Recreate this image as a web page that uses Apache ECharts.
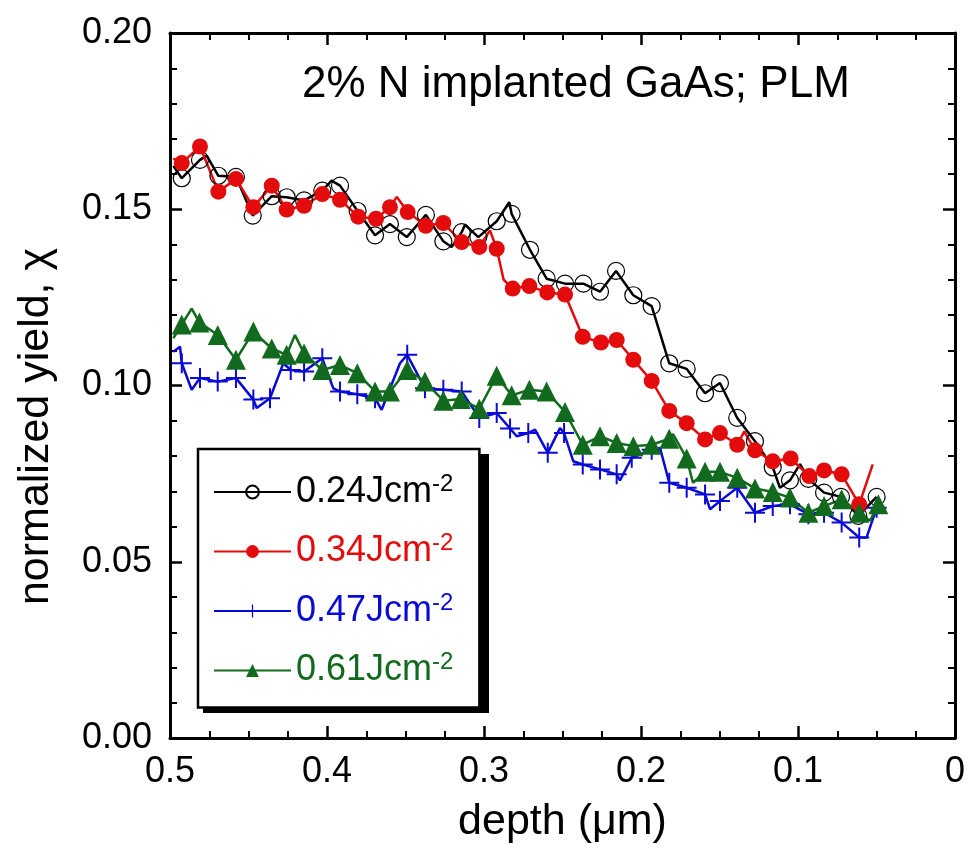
<!DOCTYPE html>
<html>
<head>
<meta charset="utf-8">
<script src="https://cdn.jsdelivr.net/npm/echarts@6/dist/echarts.min.js"></script>
<style>
  html, body { margin: 0; padding: 0; background: #fff; }
  #main { width: 971px; height: 850px; }
</style>
</head>
<body>
<div id="main"></div>
<script>
// fluence labels and colours
var fluences = ['0.24', '0.34', '0.47', '0.61'];
var colors = ['#000000', '#e30b0b', '#0a0ad8', '#126a1f'];

// [depth (um), normalized yield] at the plotted markers
var blackMarks = [[0.4925,0.1588],[0.4809,0.1640],[0.4692,0.1595],[0.458,0.1592],[0.4473,0.1482],[0.4352,0.1537],[0.4257,0.1534],[0.4146,0.1525],[0.403,0.1553],[0.3917,0.1567],[0.3805,0.1495],[0.3694,0.1426],[0.3599,0.1458],[0.3492,0.1421],[0.337,0.1484],[0.3259,0.1409],[0.3142,0.1435],[0.3036,0.1421],[0.2919,0.1466],[0.2824,0.1487],[0.2707,0.1385],[0.2601,0.1303],[0.2484,0.1289],[0.2367,0.1289],[0.2261,0.1266],[0.2159,0.1325],[0.2049,0.1256],[0.1932,0.1225],[0.182,0.1063],[0.1709,0.1047],[0.1592,0.0978],[0.1497,0.1007],[0.1387,0.0908],[0.1274,0.0842],[0.1161,0.0768],[0.1051,0.0731],[0.0934,0.0735],[0.0834,0.0696],[0.0726,0.0684],[0.0616,0.063],[0.0499,0.0684]];
var redMarks = [[0.4925,0.1631],[0.4809,0.1678],[0.4692,0.155],[0.458,0.1586],[0.4469,0.1506],[0.4352,0.1567],[0.4257,0.1499],[0.4146,0.151],[0.403,0.1543],[0.3917,0.1527],[0.3801,0.1479],[0.3688,0.1473],[0.3599,0.1506],[0.3486,0.1492],[0.3371,0.1453],[0.3259,0.1461],[0.3142,0.1407],[0.303,0.1393],[0.2919,0.1388],[0.2817,0.1275],[0.2711,0.1282],[0.2597,0.1264],[0.2484,0.1258],[0.2371,0.1138],[0.2255,0.1122],[0.2155,0.1129],[0.2049,0.1073],[0.1932,0.1013],[0.182,0.0928],[0.1709,0.0893],[0.1592,0.0847],[0.1497,0.0865],[0.1387,0.0832],[0.1274,0.0816],[0.1161,0.0785],[0.1047,0.0793],[0.0928,0.0743],[0.0834,0.0759],[0.0722,0.0748],[0.061,0.0663]];
var blueMarks = [[0.4925,0.1063],[0.4809,0.1021],[0.4696,0.1011],[0.458,0.1021],[0.4469,0.096],[0.4363,0.0964],[0.4231,0.1044],[0.4146,0.104],[0.403,0.1077],[0.3917,0.0983],[0.3807,0.0975],[0.3694,0.0964],[0.3489,0.1087],[0.3376,0.0992],[0.3259,0.0988],[0.3142,0.0983],[0.303,0.0908],[0.2919,0.0922],[0.2834,0.0878],[0.2718,0.0865],[0.2594,0.0809],[0.249,0.0865],[0.2371,0.0776],[0.2261,0.0762],[0.2155,0.0748],[0.2059,0.0795],[0.1932,0.0818],[0.182,0.0724],[0.1709,0.071],[0.1592,0.0691],[0.1497,0.0672],[0.1387,0.071],[0.1274,0.0639],[0.1161,0.0658],[0.1051,0.0663],[0.0934,0.0635],[0.0834,0.0639],[0.0722,0.0611],[0.061,0.0569],[0.0499,0.0653]];
var greenMarks = [[0.4925,0.1173],[0.4813,0.1179],[0.4696,0.1143],[0.458,0.1073],[0.4469,0.1153],[0.4352,0.1105],[0.4257,0.1087],[0.4146,0.1091],[0.403,0.1044],[0.3917,0.1058],[0.3807,0.1035],[0.3694,0.0983],[0.3599,0.0983],[0.3489,0.1044],[0.3376,0.1011],[0.3259,0.0957],[0.3148,0.0962],[0.303,0.0934],[0.2919,0.1028],[0.2824,0.0972],[0.2711,0.0988],[0.2601,0.0983],[0.2484,0.0925],[0.2371,0.0832],[0.2261,0.0856],[0.2155,0.0837],[0.2049,0.0828],[0.1932,0.0832],[0.182,0.0849],[0.1709,0.0793],[0.1592,0.0755],[0.1497,0.0755],[0.1387,0.0738],[0.1274,0.0708],[0.1161,0.0698],[0.1051,0.0682],[0.0934,0.0639],[0.0834,0.0658],[0.0722,0.0677],[0.061,0.0639],[0.0488,0.0663]];

// points on the lines between markers (no marker drawn)
var blackLineOnly = [[0.4979,0.1623],[0.4766,0.1652],[0.3971,0.1581],[0.3206,0.1393],[0.3121,0.1456],[0.2839,0.152],[0.1115,0.0710],[0.0987,0.0777]];
var redLineOnly = [[0.4979,0.1644],[0.3555,0.1535],[0.2962,0.144],[0.2875,0.130],[0.1342,0.087],[0.0524,0.0776]];
var blueLineOnly = [[0.4979,0.1096],[0.4936,0.111],[0.4862,0.0988],[0.4448,0.0936],[0.4278,0.1063],[0.396,0.0992],[0.3652,0.0931],[0.3535,0.1063],[0.2792,0.0856],[0.2675,0.0875],[0.2516,0.0879],[0.2431,0.0785],[0.2134,0.0731],[0.1879,0.0823],[0.156,0.0649],[0.0563,0.0569]];
var greenLineOnly = [[0.4979,0.1134],[0.4862,0.1218],[0.4204,0.1143],[0.1796,0.0862],[0.1669,0.0724],[0.0541,0.0616]];

function build(marks, lineOnly) {
    var d = marks.map(function (p) { return { value: p }; })
        .concat(lineOnly.map(function (p) { return { value: p, symbol: 'none' }; }));
    return d.sort(function (a, b) { return b.value[0] - a.value[0]; });
}

var crossPath = 'path://M-1,-10h2v9h9v2h-9v9h-2v-9h-9v-2h9z';
var symbols = ['circle', 'circle', crossPath, 'triangle'];
var sizes = [17, 16, 20, 20];
var allMarks = [blackMarks, redMarks, blueMarks, greenMarks];
var allLines = [blackLineOnly, redLineOnly, blueLineOnly, greenLineOnly];

var font = '"Liberation Sans", Arial, Helvetica, sans-serif';
var chartDom = document.getElementById('main');
var myChart = echarts.init(chartDom);

var series = fluences.map(function (f, i) {
    return {
        name: f,
        type: 'line',
        data: build(allMarks[i], allLines[i]),
        symbol: symbols[i],
        symbolSize: sizes[i],
        showAllSymbol: true,
        lineStyle: { color: colors[i], width: 2.5 },
        itemStyle: i === 0
            ? { color: 'rgba(0,0,0,0)', borderColor: '#000', borderWidth: 1.2 }
            : { color: colors[i], borderWidth: 0 },
        emphasis: { disabled: true },
        animation: false,
        z: 2
    };
});

var rich = {};
fluences.forEach(function (f, i) {
    rich['t' + i] = { color: colors[i], fontSize: 36, fontFamily: font, lineHeight: 40 };
    rich['s' + i] = { color: colors[i], fontSize: 24, fontFamily: font, lineHeight: 24, verticalAlign: 'top', padding: [0, 0, 14, 0] };
});

var tickStyle = { show: true, inside: true, length: 12, lineStyle: { color: '#000', width: 2.5 } };
var lineStyle = { show: true, onZero: false, lineStyle: { color: '#000', width: 3 } };

var option = {
    backgroundColor: '#fff',
    animation: false,
    title: {
        text: '2% N implanted GaAs; PLM',
        left: 297,
        top: 58,
        textStyle: { fontFamily: font, fontSize: 44, fontWeight: 'normal', color: '#000' }
    },
    // hard drop shadow behind the legend box
    graphic: [{
        type: 'rect',
        left: 203,
        top: 454,
        z: 9,
        shape: { width: 286, height: 259 },
        style: { fill: '#000' }
    }],
    grid: { left: 170, right: 16, top: 33, bottom: 112, containLabel: false },
    legend: {
        orient: 'vertical',
        left: 198,
        top: 449,
        z: 10,
        padding: [23, 26, 19, 15],
        itemGap: 21.5,
        itemWidth: 77,
        itemHeight: 16,
        backgroundColor: '#fff',
        borderColor: '#000',
        borderWidth: 2.5,
        borderRadius: 0,
        data: fluences,
        formatter: function (name) {
            var i = fluences.indexOf(name);
            return '{t' + i + '|' + name + 'Jcm}{s' + i + '|-2}';
        },
        textStyle: { fontFamily: font, fontSize: 36, rich: rich }
    },
    xAxis: [{
        type: 'value',
        min: 0,
        max: 0.5,
        interval: 0.1,
        inverse: true,
        position: 'bottom',
        name: 'depth (\u03bcm)',
        nameLocation: 'middle',
        nameGap: 63,
        nameTextStyle: { fontFamily: font, fontSize: 43, color: '#000' },
        axisLine: lineStyle,
        axisTick: tickStyle,
        minorTick: { show: true, splitNumber: 4, length: 7, lineStyle: { color: '#000', width: 2 } },
        splitLine: { show: false },
        axisLabel: { fontFamily: font, fontSize: 36, color: '#000', margin: 16 }
    }, {
        type: 'value',
        min: 0,
        max: 0.5,
        interval: 0.1,
        inverse: true,
        position: 'top',
        axisLine: lineStyle,
        axisTick: tickStyle,
        minorTick: { show: true, splitNumber: 4, length: 7, lineStyle: { color: '#000', width: 2 } },
        splitLine: { show: false },
        axisLabel: { show: false }
    }],
    yAxis: [{
        type: 'value',
        min: 0,
        max: 0.2,
        interval: 0.05,
        position: 'left',
        name: 'normalized yield, \u03c7',
        nameLocation: 'middle',
        nameGap: 112,
        nameTextStyle: { fontFamily: font, fontSize: 43, color: '#000', padding: [0, 82, 0, 0] },
        axisLine: lineStyle,
        axisTick: tickStyle,
        minorTick: { show: true, splitNumber: 5, length: 7, lineStyle: { color: '#000', width: 2 } },
        splitLine: { show: false },
        axisLabel: {
            fontFamily: font, fontSize: 36, color: '#000', margin: 18,
            formatter: function (v) { return v.toFixed(2); }
        }
    }, {
        type: 'value',
        min: 0,
        max: 0.2,
        interval: 0.05,
        position: 'right',
        axisLine: lineStyle,
        axisTick: tickStyle,
        minorTick: { show: true, splitNumber: 5, length: 7, lineStyle: { color: '#000', width: 2 } },
        splitLine: { show: false },
        axisLabel: { show: false }
    }],
    series: series
};

option && myChart.setOption(option);
</script>
</body>
</html>
